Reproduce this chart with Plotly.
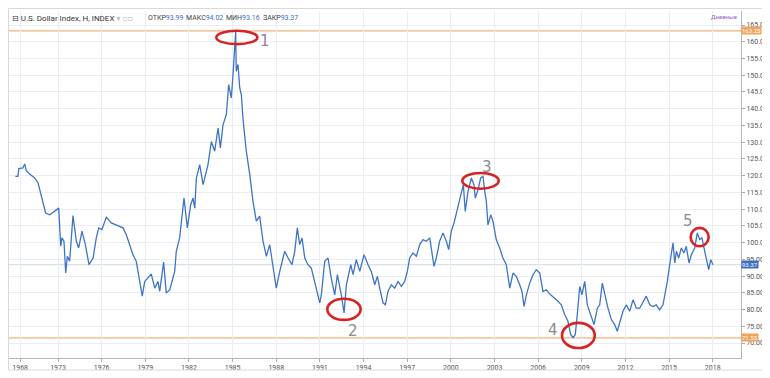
import plotly.graph_objects as go

# ---- data (decimal year, index value) ----
years = [
    1970.07, 1970.25, 1970.30, 1970.59, 1970.71, 1970.82, 1971.05, 1971.40, 1971.63, 1971.85,
    1972.04, 1972.15, 1972.43, 1972.77, 1973.05, 1973.12, 1973.19, 1973.27, 1973.41, 1973.53,
    1973.64, 1973.80, 1974.03, 1974.26, 1974.42, 1974.65, 1974.88, 1975.13, 1975.41, 1975.63,
    1975.80, 1976.02, 1976.32, 1976.66, 1977.01, 1977.47, 1977.69, 1977.93, 1978.15, 1978.38,
    1978.55, 1978.68, 1978.79, 1978.96, 1979.19, 1979.41, 1979.65, 1979.87, 1979.99, 1980.26,
    1980.44, 1980.68, 1981.02, 1981.13, 1981.36, 1981.52, 1981.66, 1981.89, 1982.12, 1982.28,
    1982.40, 1982.51, 1982.74, 1982.97, 1983.31, 1983.54, 1983.77, 1984.00, 1984.16, 1984.34,
    1984.57, 1984.73, 1984.91, 1985.03, 1985.14, 1985.21, 1985.25, 1985.37, 1985.49, 1985.60,
    1985.71, 1985.94, 1986.18, 1986.40, 1986.63, 1986.86, 1987.09, 1987.32, 1987.55, 1987.78,
    1988.00, 1988.24, 1988.58, 1988.81, 1989.08, 1989.27, 1989.45, 1989.61, 1989.77, 1989.96,
    1990.18, 1990.41, 1990.75, 1990.99, 1991.10, 1991.33, 1991.56, 1991.78, 1992.02, 1992.20,
    1992.47, 1992.66, 1992.82, 1993.12, 1993.28, 1993.50, 1993.74, 1994.03, 1994.31, 1994.53,
    1994.77, 1994.95, 1995.11, 1995.34, 1995.50, 1995.68, 1995.91, 1996.14, 1996.37, 1996.60,
    1996.83, 1997.01, 1997.17, 1997.40, 1997.63, 1997.86, 1998.09, 1998.31, 1998.55, 1998.70,
    1998.84, 1999.00, 1999.23, 1999.46, 1999.69, 1999.85, 2000.03, 2000.22, 2000.38, 2000.54,
    2000.72, 2000.86, 2000.99, 2001.18, 2001.41, 2001.59, 2001.68, 2001.87, 2002.05, 2002.21,
    2002.33, 2002.44, 2002.55, 2002.74, 2002.90, 2003.12, 2003.36, 2003.58, 2003.81, 2004.05,
    2004.27, 2004.50, 2004.73, 2004.89, 2005.03, 2005.19, 2005.42, 2005.65, 2005.87, 2006.11,
    2006.33, 2006.56, 2006.86, 2007.14, 2007.36, 2007.59, 2007.82, 2008.05, 2008.24, 2008.40,
    2008.55, 2008.69, 2008.86, 2009.01, 2009.20, 2009.38, 2009.61, 2009.84, 2010.07, 2010.23,
    2010.41, 2010.57, 2010.80, 2011.03, 2011.26, 2011.44, 2011.61, 2011.83, 2012.06, 2012.29,
    2012.52, 2012.75, 2012.98, 2013.21, 2013.43, 2013.67, 2013.89, 2014.12, 2014.35, 2014.58,
    2014.74, 2014.88, 2015.04, 2015.15, 2015.27, 2015.39, 2015.50, 2015.66, 2015.84, 2016.02,
    2016.18, 2016.37, 2016.53, 2016.76, 2016.94, 2017.10, 2017.26, 2017.45, 2017.61, 2017.72,
    2017.86, 2018.02,
]
values = [
    119.8, 119.8, 122.1, 122.3, 123.5, 121.5, 120.5, 119.3, 117.8, 114.3,
    111.3, 108.8, 108.3, 109.5, 110.3, 104.4, 98.9, 101.4, 100.4, 90.9,
    95.9, 94.4, 108.1, 100.4, 98.4, 103.4, 99.4, 93.4, 95.4, 101.4,
    104.4, 103.9, 107.6, 105.9, 105.3, 104.4, 102.4, 99.4, 96.4, 94.4,
    90.4, 87.4, 84.0, 88.4, 89.4, 90.6, 86.4, 88.4, 85.4, 94.2,
    84.9, 85.9, 91.4, 97.4, 101.4, 108.3, 113.3, 104.4, 111.3, 113.3,
    110.3, 119.3, 123.3, 117.3, 123.3, 130.2, 127.3, 134.2, 128.3, 135.2,
    138.2, 147.2, 143.2, 150.2, 157.2, 163.0, 151.2, 153.2, 146.2, 144.2,
    137.2, 127.3, 120.3, 112.3, 106.4, 107.9, 100.4, 95.9, 99.4, 93.4,
    86.4, 91.4, 97.4, 95.4, 93.4, 97.4, 104.4, 99.4, 101.4, 95.4,
    93.4, 92.4, 86.4, 82.0, 84.4, 94.4, 95.4, 89.4, 84.4, 90.4,
    84.4, 79.0, 87.4, 93.4, 90.4, 94.9, 91.4, 96.4, 93.4, 91.4,
    87.4, 89.9, 86.4, 82.0, 81.4, 85.4, 87.4, 86.4, 88.4, 86.9,
    88.4, 91.4, 95.4, 96.9, 95.9, 99.4, 100.9, 100.4, 101.4, 97.4,
    92.9, 95.4, 100.4, 102.9, 100.4, 97.9, 103.4, 105.9, 108.9, 110.9,
    114.3, 117.3, 109.3, 115.3, 119.3, 117.3, 113.3, 115.8, 119.3, 119.8,
    115.3, 112.3, 105.3, 108.3, 106.3, 100.9, 98.4, 95.4, 93.4, 86.4,
    90.9, 89.9, 87.4, 85.4, 80.9, 84.4, 87.9, 90.4, 91.9, 90.9,
    85.4, 85.9, 84.4, 83.4, 82.5, 81.4, 78.5, 76.5, 72.5, 71.6,
    72.5, 78.5, 86.9, 84.4, 88.4, 81.4, 78.5, 75.5, 80.4, 81.4,
    87.9, 84.4, 80.4, 77.0, 75.5, 73.5, 76.0, 79.5, 81.4, 79.5,
    82.9, 80.4, 80.4, 82.5, 84.0, 81.4, 80.9, 81.4, 79.9, 81.4,
    84.9, 88.4, 93.4, 97.4, 99.9, 93.9, 97.4, 95.4, 98.4, 96.9,
    98.9, 93.9, 96.4, 98.4, 102.9, 100.9, 101.4, 97.4, 93.9, 91.9,
    94.9, 93.4,
]

tick_labels = ["1968", "1973", "1976", "1979", "1982", "1985", "1988", "1991", "1994",
               "1997", "2000", "2003", "2006", "2009", "2012", "2015", "2018"]
tick_years = [1970.4, 1973, 1976, 1979, 1982, 1985, 1988, 1991, 1994,
              1997, 2000, 2003, 2006, 2009, 2012, 2015, 2018]

level_high = 163.25
level_low = 71.55
last_close = 93.37

header_fields = [("ОТКР", "93.99"), ("МАКС", "94.02"), ("МИН", "93.16"), ("ЗАКР", "93.37")]

# marked turning points: (label, x0, x1, y0, y1, label_year, label_value)
marks = [
    ("1", 1983.88, 1986.70, 159.3, 163.3, 1987.2, 160.3),
    ("2", 1991.51, 1993.80, 76.9, 83.2, 1993.3, 73.6),
    ("3", 2000.79, 2003.29, 116.1, 120.8, 2002.45, 122.6),
    ("4", 2007.64, 2009.89, 68.5, 76.0, 2007.0, 73.8),
    ("5", 2016.48, 2017.72, 98.9, 104.4, 2016.3, 106.6),
]

# ---- layout geometry ----
W, H = 770, 378
ML, MR, MT, MB = 1, 37, 3, 28
PW, PH = W - ML - MR, H - MT - MB


def pxx(p):
    return (p - ML) / PW


def pxy(p):
    return 1 - (p - MT) / PH


FONT = "Roboto, DejaVu Sans, sans-serif"

fig = go.Figure()
fig.add_trace(go.Scatter(x=years, y=values, mode="lines",
                         line=dict(color="#3f74c4", width=1.3),
                         hoverinfo="skip", showlegend=False))

shapes = []
# horizontal levels
for lv, col, w in [(level_high, "#f2b27a", 1.2), (level_low, "#f2b27a", 1.2), (last_close, "#cdd9e6", 1)]:
    shapes.append(dict(type="line", xref="paper", yref="y", x0=0, x1=1, y0=lv, y1=lv,
                       line=dict(color=col, width=w), layer="below"))
# red ellipses
for m in marks:
    shapes.append(dict(type="circle", xref="x", yref="y", x0=m[1], x1=m[2], y0=m[3], y1=m[4],
                       line=dict(color="#d42424", width=2.6)))
# outer frame
shapes.append(dict(type="rect", xref="paper", yref="paper",
                   x0=pxx(0.5), x1=pxx(755), y0=pxy(362), y1=pxy(0.5),
                   line=dict(color="#d9d9d9", width=1)))

annotations = []
# header
annotations.append(dict(xref="paper", yref="paper", x=pxx(2), y=pxy(10), xanchor="left", yanchor="middle",
                        text="⊟ U.S. Dollar Index, H, INDEX <span style='color:#bbb'>▾ ▫▫</span>",
                        showarrow=False, font=dict(family=FONT, size=8, color="#333")))
hx = [138, 176, 216, 253]
for (lab, val), xx in zip(header_fields, hx):
    annotations.append(dict(xref="paper", yref="paper", x=pxx(xx), y=pxy(10), xanchor="left", yanchor="middle",
                            text=f"{lab}<span style='color:#3d6fc1'>{val}</span>",
                            showarrow=False, font=dict(family=FONT, size=7, color="#444")))
annotations.append(dict(xref="paper", yref="paper", x=pxx(731), y=pxy(9), xanchor="right", yanchor="middle",
                        text="Дневные", showarrow=False, font=dict(family=FONT, size=6, color="#9b5cc0")))
# price boxes on the axis
for lv, bg in [(level_high, "#f0a35c"), (last_close, "#3d6fc1"), (level_low, "#f0a35c")]:
    annotations.append(dict(xref="paper", yref="y", x=1.0, y=lv, xanchor="left", yanchor="middle",
                            text=f"{lv:.2f}", showarrow=False, bgcolor=bg, borderpad=0,
                            font=dict(family=FONT, size=6, color="white")))
# hand-written numbers
for m in marks:
    annotations.append(dict(xref="x", yref="y", x=m[5], y=m[6], text=m[0], showarrow=False,
                            font=dict(family="DejaVu Sans", size=15,
                                      color="#a07aa8" if m[0] == "1" else "#8c8c8c")))

fig.update_layout(
    width=W, height=H,
    margin=dict(l=ML, r=MR, t=MT, b=MB),
    paper_bgcolor="white", plot_bgcolor="white",
    shapes=shapes, annotations=annotations,
    xaxis=dict(range=[1969.632, 2019.942], tickvals=tick_years, ticktext=tick_labels,
               ticks="outside", ticklen=3, tickcolor="#aaa",
               tickfont=dict(family=FONT, size=7, color="#555"),
               showgrid=True, gridcolor="#eaeef3", gridwidth=1,
               showline=True, linecolor="#b5b5b5", zeroline=False, fixedrange=True),
    yaxis=dict(range=[65.52, 169.19], side="right", tick0=70, dtick=5, tickformat=".2f",
               ticks="outside", ticklen=3, tickcolor="#aaa",
               tickfont=dict(family=FONT, size=7, color="#555"),
               showgrid=True, gridcolor="#eaeef3", gridwidth=1,
               showline=True, linecolor="#b5b5b5", zeroline=False, fixedrange=True),
)

fig.write_html("out.html")
